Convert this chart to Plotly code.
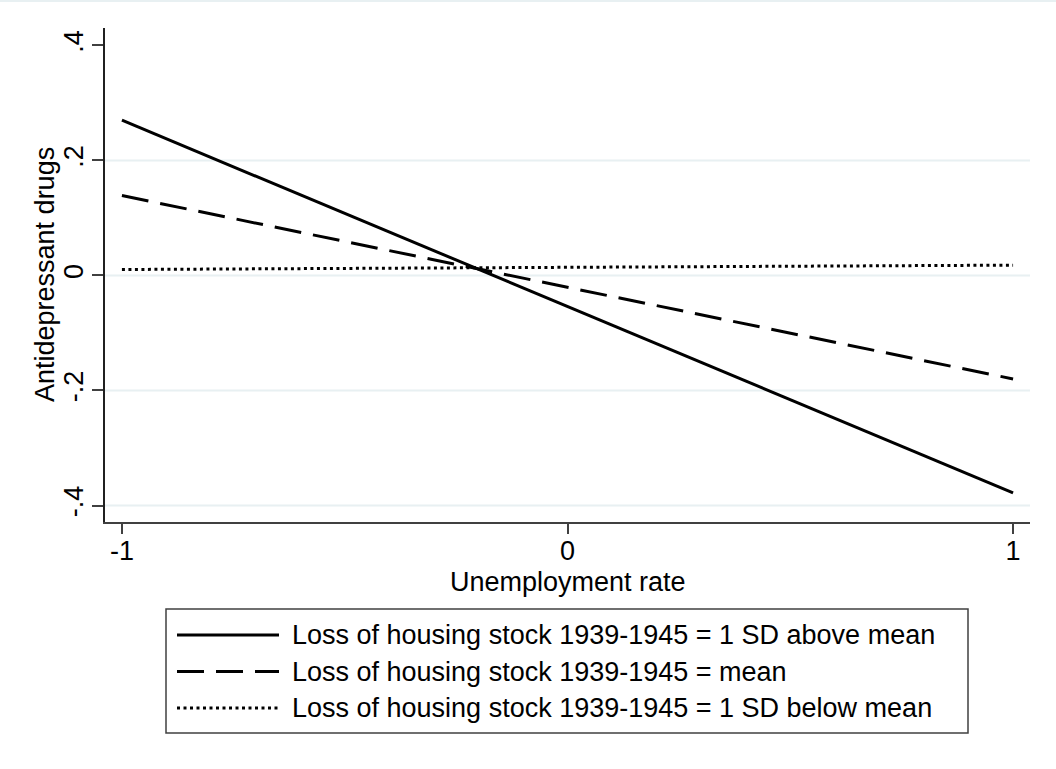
import plotly.graph_objects as go

# ---- data ----
x_vals = [-1, 1]
above_mean = [0.270, -0.378]
at_mean = [0.139, -0.180]
below_mean = [0.0104, 0.018]

series_names = [
    "Loss of housing stock 1939-1945 = 1 SD above mean",
    "Loss of housing stock 1939-1945 = mean",
    "Loss of housing stock 1939-1945 = 1 SD below mean",
]
series_values = [above_mean, at_mean, below_mean]
series_dash = ["solid", "27px,12px", "3px,3.5px"]

x_tick_vals = [-1, 0, 1]
x_tick_text = ["-1", "0", "1"]
y_tick_vals = [-0.4, -0.2, 0, 0.2, 0.4]
y_tick_text = ["-.4", "-.2", "0", ".2", ".4"]
y_grid_vals = [-0.4, -0.2, 0, 0.2]
x_title = "Unemployment rate"
y_title = "Antidepressant drugs"

W, H = 1056, 769
L, R, T, B = 105, 26, 28, 247
PW, PH = W - L - R, H - T - B
FONT = "Liberation Sans, Arial, sans-serif"
FS = 27


def px(xp):
    return (xp - L) / PW


def py(yp):
    return (H - B - yp) / PH


fig = go.Figure()
for name, vals, dash in zip(series_names, series_values, series_dash):
    fig.add_trace(go.Scatter(
        x=x_vals, y=vals, mode="lines", name=name, showlegend=False,
        line=dict(color="black", width=3, dash=dash),
    ))

shapes = []
# gridlines
for gv in y_grid_vals:
    shapes.append(dict(type="line", xref="paper", yref="y", x0=0, x1=1, y0=gv, y1=gv,
                       line=dict(color="#e8f0f2", width=2), layer="below"))
# faint top border of graph region
shapes.append(dict(type="line", xref="paper", yref="paper", x0=px(0), x1=px(W),
                   y0=py(1), y1=py(1), line=dict(color="#e8f0f2", width=2)))
# legend box
leg_l, leg_r, leg_t, leg_b = 166, 968, 609, 733
shapes.append(dict(type="rect", xref="paper", yref="paper",
                   x0=px(leg_l), x1=px(leg_r), y0=py(leg_b), y1=py(leg_t),
                   line=dict(color="#404040", width=1.5), fillcolor="white"))
row_y = [635, 671.5, 708]
annotations = []
for name, dash, ry in zip(series_names, series_dash, row_y):
    shapes.append(dict(type="line", xref="paper", yref="paper",
                       x0=px(177), x1=px(279), y0=py(ry), y1=py(ry),
                       line=dict(color="black", width=3, dash=dash)))
    annotations.append(dict(xref="paper", yref="paper", x=px(290), y=py(ry),
                            xanchor="left", yanchor="middle", showarrow=False,
                            text=name, font=dict(family=FONT, size=FS, color="black")))
# axis titles
annotations.append(dict(xref="paper", yref="paper", x=0.5, y=py(582),
                        xanchor="center", yanchor="middle", showarrow=False,
                        text=x_title, font=dict(family=FONT, size=FS, color="black")))
annotations.append(dict(xref="paper", yref="paper", x=px(45), y=0.5,
                        xanchor="center", yanchor="middle", showarrow=False, textangle=-90,
                        text=y_title, font=dict(family=FONT, size=FS, color="black")))

fig.update_layout(
    width=W, height=H,
    margin=dict(l=L, r=R, t=T, b=B),
    paper_bgcolor="white", plot_bgcolor="white",
    font=dict(family=FONT, size=FS, color="black"),
    shapes=shapes, annotations=annotations,
    xaxis=dict(
        range=[-1.038, 1.038], tickvals=x_tick_vals, ticktext=x_tick_text,
        showgrid=False, zeroline=False, showline=True, linecolor="#404040", linewidth=1.5,
        ticks="outside", ticklen=10, tickwidth=1.5, tickcolor="#404040",
        ticklabelstandoff=-6,
        tickfont=dict(family=FONT, size=FS, color="black"),
    ),
    yaxis=dict(
        range=[-0.4287, 0.4304], tickvals=y_tick_vals, ticktext=y_tick_text,
        showgrid=False, zeroline=False, showline=True, linecolor="#202020", linewidth=1.5,
        ticks="outside", ticklen=11, tickwidth=1.5, tickcolor="#404040",
        tickangle=-90, ticklabelstandoff=-2,
        tickfont=dict(family=FONT, size=FS, color="black"),
    ),
)

fig.write_html("out.html", config={"displayModeBar": False},
               post_script="document.body.style.margin='0';")
